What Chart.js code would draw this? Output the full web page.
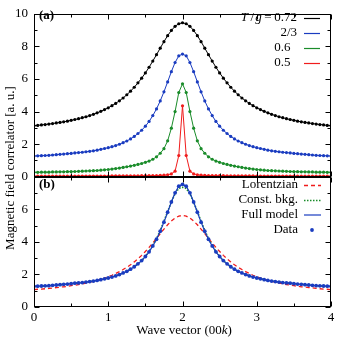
<!DOCTYPE html>
<html>
<head>
<meta charset="utf-8">
<script src="https://cdn.jsdelivr.net/npm/chart.js@4.4.1/dist/chart.umd.min.js"></script>
<style>
  html, body { margin: 0; padding: 0; background: #fff; }
  #chart { display: block; }
</style>
</head>
<body>
<canvas id="chart" width="338" height="338"></canvas>
<script>
// wave vector (00k), one sample every 0.05
const waveVector = [
	0, 0.05, 0.1, 0.15, 0.2, 0.25, 0.3, 0.35, 0.4, 0.45,
	0.5, 0.55, 0.6, 0.65, 0.7, 0.75, 0.8, 0.85, 0.9, 0.95,
	1, 1.05, 1.1, 1.15, 1.2, 1.25, 1.3, 1.35, 1.4, 1.45,
	1.5, 1.55, 1.6, 1.65, 1.7, 1.75, 1.8, 1.85, 1.9, 1.95,
	2,
	2.05, 2.1, 2.15, 2.2, 2.25, 2.3, 2.35, 2.4, 2.45, 2.5,
	2.55, 2.6, 2.65, 2.7, 2.75, 2.8, 2.85, 2.9, 2.95, 3,
	3.05, 3.1, 3.15, 3.2, 3.25, 3.3, 3.35, 3.4, 3.45, 3.5,
	3.55, 3.6, 3.65, 3.7, 3.75, 3.8, 3.85, 3.9, 3.95, 4
];

// panel (a): T/g = 0.72, 2/3, 0.6, 0.5
const corr072 = [
	3.13, 3.15, 3.18, 3.20, 3.23, 3.26, 3.30, 3.33, 3.37, 3.41,
	3.46, 3.51, 3.56, 3.62, 3.68, 3.75, 3.83, 3.92, 4.01, 4.12,
	4.23, 4.36, 4.50, 4.66, 4.83, 5.03, 5.25, 5.49, 5.76, 6.05,
	6.37, 6.72, 7.10, 7.49, 7.89, 8.29, 8.66, 8.98, 9.23, 9.39,
	9.45,
	9.39, 9.23, 8.98, 8.66, 8.29, 7.89, 7.49, 7.10, 6.72, 6.37,
	6.05, 5.76, 5.49, 5.25, 5.03, 4.83, 4.66, 4.50, 4.36, 4.23,
	4.12, 4.01, 3.92, 3.83, 3.75, 3.68, 3.62, 3.56, 3.51, 3.46,
	3.41, 3.37, 3.33, 3.30, 3.26, 3.23, 3.20, 3.18, 3.15, 3.13
];
const corr23 = [
	1.27, 1.28, 1.29, 1.30, 1.31, 1.33, 1.35, 1.37, 1.39, 1.41,
	1.43, 1.46, 1.48, 1.50, 1.53, 1.56, 1.59, 1.63, 1.68, 1.73,
	1.78, 1.84, 1.91, 1.99, 2.09, 2.19, 2.32, 2.47, 2.65, 2.85,
	3.10, 3.39, 3.75, 4.16, 4.65, 5.21, 5.82, 6.45, 7.01, 7.42,
	7.53,
	7.42, 7.01, 6.45, 5.82, 5.21, 4.65, 4.16, 3.75, 3.39, 3.10,
	2.85, 2.65, 2.47, 2.32, 2.19, 2.09, 1.99, 1.91, 1.84, 1.78,
	1.73, 1.68, 1.63, 1.59, 1.56, 1.53, 1.50, 1.48, 1.46, 1.43,
	1.41, 1.39, 1.37, 1.35, 1.33, 1.31, 1.30, 1.29, 1.28, 1.27
];
const corr06 = [
	0.27, 0.27, 0.28, 0.28, 0.28, 0.29, 0.29, 0.30, 0.30, 0.31,
	0.31, 0.32, 0.33, 0.34, 0.35, 0.36, 0.37, 0.38, 0.40, 0.42,
	0.44, 0.47, 0.50, 0.53, 0.57, 0.61, 0.65, 0.70, 0.75, 0.81,
	0.88, 0.96, 1.07, 1.22, 1.44, 1.72, 2.20, 2.98, 4.00, 5.17,
	5.70,
	5.17, 4.00, 2.98, 2.20, 1.72, 1.44, 1.22, 1.07, 0.96, 0.88,
	0.81, 0.75, 0.70, 0.65, 0.61, 0.57, 0.53, 0.50, 0.47, 0.44,
	0.42, 0.40, 0.38, 0.37, 0.36, 0.35, 0.34, 0.33, 0.32, 0.31,
	0.31, 0.30, 0.30, 0.29, 0.29, 0.28, 0.28, 0.28, 0.27, 0.27
];
const corr05 = [
	0.03, 0.03, 0.03, 0.03, 0.03, 0.03, 0.03, 0.03, 0.03, 0.03,
	0.03, 0.04, 0.04, 0.04, 0.04, 0.04, 0.04, 0.04, 0.04, 0.04,
	0.04, 0.05, 0.05, 0.05, 0.05, 0.05, 0.05, 0.05, 0.05, 0.06,
	0.06, 0.06, 0.06, 0.07, 0.08, 0.09, 0.12, 0.17, 0.34, 1.30,
	4.35,
	1.30, 0.34, 0.17, 0.12, 0.09, 0.08, 0.07, 0.06, 0.06, 0.06,
	0.06, 0.05, 0.05, 0.05, 0.05, 0.05, 0.05, 0.05, 0.05, 0.04,
	0.04, 0.04, 0.04, 0.04, 0.04, 0.04, 0.04, 0.04, 0.04, 0.04,
	0.03, 0.03, 0.03, 0.03, 0.03, 0.03, 0.03, 0.03, 0.03, 0.03
];

// panel (b): fits to the T/g = 2/3 data
const fitLorentzian = [
	1.07, 1.09, 1.10, 1.12, 1.14, 1.17, 1.19, 1.22, 1.24, 1.27,
	1.31, 1.34, 1.38, 1.42, 1.47, 1.52, 1.58, 1.64, 1.70, 1.78,
	1.86, 1.95, 2.06, 2.17, 2.30, 2.44, 2.59, 2.77, 2.96, 3.17,
	3.41, 3.66, 3.93, 4.21, 4.50, 4.78, 5.05, 5.28, 5.46, 5.58,
	5.62,
	5.58, 5.46, 5.28, 5.05, 4.78, 4.50, 4.21, 3.93, 3.66, 3.41,
	3.17, 2.96, 2.77, 2.59, 2.44, 2.30, 2.17, 2.06, 1.95, 1.86,
	1.78, 1.70, 1.64, 1.58, 1.52, 1.47, 1.42, 1.38, 1.34, 1.31,
	1.27, 1.24, 1.22, 1.19, 1.17, 1.14, 1.12, 1.10, 1.09, 1.07
];
const fitConstBkg = [
	1.26, 1.27, 1.28, 1.29, 1.31, 1.33, 1.35, 1.37, 1.39, 1.41,
	1.43, 1.46, 1.48, 1.50, 1.53, 1.56, 1.59, 1.63, 1.68, 1.73,
	1.78, 1.84, 1.91, 1.99, 2.09, 2.19, 2.32, 2.47, 2.65, 2.85,
	3.11, 3.41, 3.78, 4.20, 4.70, 5.26, 5.86, 6.45, 6.95, 7.28,
	7.35,
	7.28, 6.95, 6.45, 5.86, 5.26, 4.70, 4.20, 3.78, 3.41, 3.11,
	2.85, 2.65, 2.47, 2.32, 2.19, 2.09, 1.99, 1.91, 1.84, 1.78,
	1.73, 1.68, 1.63, 1.59, 1.56, 1.53, 1.50, 1.48, 1.46, 1.43,
	1.41, 1.39, 1.37, 1.35, 1.33, 1.31, 1.29, 1.28, 1.27, 1.26
];
const fitFullModel = [
	1.27, 1.28, 1.29, 1.30, 1.31, 1.33, 1.35, 1.37, 1.39, 1.41,
	1.43, 1.46, 1.48, 1.50, 1.53, 1.56, 1.59, 1.63, 1.68, 1.73,
	1.78, 1.84, 1.91, 1.99, 2.09, 2.19, 2.32, 2.47, 2.65, 2.85,
	3.10, 3.39, 3.75, 4.16, 4.65, 5.21, 5.82, 6.45, 7.01, 7.42,
	7.53,
	7.42, 7.01, 6.45, 5.82, 5.21, 4.65, 4.16, 3.75, 3.39, 3.10,
	2.85, 2.65, 2.47, 2.32, 2.19, 2.09, 1.99, 1.91, 1.84, 1.78,
	1.73, 1.68, 1.63, 1.59, 1.56, 1.53, 1.50, 1.48, 1.46, 1.43,
	1.41, 1.39, 1.37, 1.35, 1.33, 1.31, 1.30, 1.29, 1.28, 1.27
];
const fitData = corr23;

const tempLabels = ['0.72', '2/3', '0.6', '0.5'];
const fitLabels = ['Lorentzian', 'Const. bkg.', 'Full model', 'Data'];
const xTicks = [0, 1, 2, 3, 4];
const yTicksTop = [0, 2, 4, 6, 8, 10];
const yTicksBottom = [0, 2, 4, 6];

const BLACK = '#000000';
const BLUE = '#1a3cc0';
const GREEN = '#1a8c2a';
const RED = '#f01c1c';
const FONT = "'Liberation Serif', 'DejaVu Serif', serif";

Chart.defaults.font.family = FONT;
Chart.defaults.color = '#000';

const pts = ys => waveVector.map((x, i) => ({ x: x, y: ys[i] }));

function dataLine(ys, color, axis) {
	return {
		data: pts(ys), yAxisID: axis,
		borderColor: color, backgroundColor: color,
		borderWidth: 1, pointRadius: 1.6, pointBorderWidth: 0,
		pointBackgroundColor: color, tension: 0
	};
}

// frame, inward ticks, labels and keys (gnuplot look)
const panelPlugin = {
	id: 'panelPlugin',
	afterDatasetsDraw(chart) {
		const ctx = chart.ctx;
		const xs = chart.scales.x;
		const panels = [chart.scales.yTop, chart.scales.yBot];
		const L = Math.round(xs.left) + 0.5, R = Math.round(xs.right) - 0.5;
		ctx.save();
		ctx.strokeStyle = '#000';
		ctx.lineWidth = 1;
		panels.forEach(ys => {
			const T = Math.round(ys.top) + 0.5, B = Math.round(ys.bottom) - 0.5;
			ctx.strokeRect(L, T, R - L, B - T);
			ctx.beginPath();
			for (let v = 0; v <= 4; v += 0.5) {
				const px = Math.round(xs.getPixelForValue(v)) + 0.5;
				const len = v % 1 === 0 ? 5 : 3;
				ctx.moveTo(px, B); ctx.lineTo(px, B - len);
				ctx.moveTo(px, T); ctx.lineTo(px, T + len);
			}
			for (let v = 0; v <= ys.max; v += 1) {
				const py = Math.round(ys.getPixelForValue(v)) + 0.5;
				const len = v % 2 === 0 ? 5 : 3;
				ctx.moveTo(L, py); ctx.lineTo(L + len, py);
				ctx.moveTo(R, py); ctx.lineTo(R - len, py);
			}
			ctx.stroke();
		});

		ctx.fillStyle = '#000';
		ctx.textBaseline = 'middle';

		// panel tags
		ctx.font = 'bold 13px ' + FONT;
		ctx.textAlign = 'left';
		ctx.fillText('(a)', 39, 16);
		ctx.fillText('(b)', 39, 185);

		// y title
		ctx.font = '13px ' + FONT;
		ctx.save();
		ctx.translate(11, 168);
		ctx.rotate(-Math.PI / 2);
		ctx.textAlign = 'center';
		ctx.fillText('Magnetic field correlator [a. u.]', 0, 0);
		ctx.restore();

		// x title with italic k
		drawParts(ctx, [['Wave vector (00', false], ['k', true], [')', false]], null, 184, 331, 13);

		// key (a)
		const colors = [BLACK, BLUE, GREEN, RED];
		const rowsA = [18, 33, 48, 63];
		rowsA.forEach((y, i) => {
			if (i === 0) {
				drawParts(ctx, [['T', true], ['\u2009/\u200a', false], ['g', true], ['\u2009=\u2009' + tempLabels[0], false]], 297, null, y, 13);
			} else if (i === 1) {
				drawParts(ctx, [[tempLabels[i], false]], 297, null, y, 13);
			} else {
				drawParts(ctx, [[tempLabels[i] + '\u2002', false]], 297, null, y, 13);
			}
			ctx.strokeStyle = colors[i];
			ctx.lineWidth = 1.2;
			ctx.beginPath();
			ctx.moveTo(304, y + 0.5); ctx.lineTo(320, y + 0.5);
			ctx.stroke();
		});

		// key (b)
		const rowsB = [185, 200, 214.5, 229.5];
		rowsB.forEach((y, i) => {
			drawParts(ctx, [[fitLabels[i], false]], 298, null, y, 13);
		});
		ctx.lineWidth = 1.3;
		ctx.strokeStyle = RED; ctx.setLineDash([4, 3]);
		ctx.beginPath(); ctx.moveTo(304, 185.5); ctx.lineTo(321, 185.5); ctx.stroke();
		ctx.strokeStyle = GREEN; ctx.setLineDash([1.5, 1.5]); ctx.lineWidth = 1.6;
		ctx.beginPath(); ctx.moveTo(304, 200.5); ctx.lineTo(321, 200.5); ctx.stroke();
		ctx.setLineDash([]); ctx.lineWidth = 1.2;
		ctx.strokeStyle = BLUE;
		ctx.beginPath(); ctx.moveTo(304, 215); ctx.lineTo(321, 215); ctx.stroke();
		ctx.fillStyle = BLUE;
		ctx.beginPath(); ctx.arc(312, 230, 1.9, 0, Math.PI * 2); ctx.fill();
		ctx.restore();
	}
};

function drawParts(ctx, parts, right, center, y, size) {
	const fonts = parts.map(p => (p[1] ? 'italic ' : '') + size + 'px ' + FONT);
	let total = 0;
	const widths = parts.map((p, i) => { ctx.font = fonts[i]; const w = ctx.measureText(p[0]).width; total += w; return w; });
	let x = right !== null ? right - total : center - total / 2;
	ctx.textAlign = 'left';
	ctx.fillStyle = '#000';
	parts.forEach((p, i) => { ctx.font = fonts[i]; ctx.fillText(p[0], x, y); x += widths[i]; });
}

const tickFont = { family: FONT, size: 13 };
const tickOpts = pad => ({ font: tickFont, color: '#000', padding: pad, autoSkip: false, maxRotation: 0 });

new Chart(document.getElementById('chart'), {
	type: 'line',
	data: {
		datasets: [
			dataLine(corr072, BLACK, 'yTop'),
			dataLine(corr23, BLUE, 'yTop'),
			dataLine(corr06, GREEN, 'yTop'),
			dataLine(corr05, RED, 'yTop'),
			{
				data: pts(fitData), yAxisID: 'yBot', showLine: false,
				pointRadius: 1.9, pointBorderWidth: 0, pointBackgroundColor: BLUE, order: 0
			},
			{
				data: pts(fitFullModel), yAxisID: 'yBot', borderColor: BLUE, borderWidth: 1.2,
				pointRadius: 0, tension: 0, order: 1
			},
			{
				data: pts(fitConstBkg), yAxisID: 'yBot', borderColor: GREEN, borderWidth: 1.6,
				borderDash: [1.5, 1.5], pointRadius: 0, tension: 0, order: 2
			},
			{
				data: pts(fitLorentzian), yAxisID: 'yBot', borderColor: RED, borderWidth: 1.3,
				borderDash: [4, 3], pointRadius: 0, tension: 0, order: 3
			}
		]
	},
	options: {
		responsive: false,
		animation: false,
		events: [],
		layout: { padding: { top: 7, right: 7, left: 0, bottom: 0 } },
		plugins: { legend: { display: false }, tooltip: { enabled: false } },
		scales: {
			x: {
				type: 'linear', min: 0, max: 4,
				grid: { display: false, drawTicks: false }, border: { display: false },
				afterBuildTicks: s => { s.ticks = xTicks.map(v => ({ value: v })); },
				ticks: tickOpts(3),
				afterFit: s => { s.height = 31; }
			},
			yBot: {
				type: 'linear', position: 'left', min: 0, max: 8,
				stack: 'panels', stackWeight: 8,
				grid: { display: false, drawTicks: false }, border: { display: false },
				afterBuildTicks: s => { s.ticks = yTicksBottom.map(v => ({ value: v })); },
				ticks: tickOpts(6),
				afterFit: s => { s.width = 34; }
			},
			yTop: {
				type: 'linear', position: 'left', min: 0, max: 10,
				stack: 'panels', stackWeight: 10,
				grid: { display: false, drawTicks: false }, border: { display: false },
				afterBuildTicks: s => { s.ticks = yTicksTop.map(v => ({ value: v })); },
				ticks: tickOpts(6),
				afterFit: s => { s.width = 34; }
			}
		}
	},
	plugins: [panelPlugin]
});
</script>
</body>
</html>
